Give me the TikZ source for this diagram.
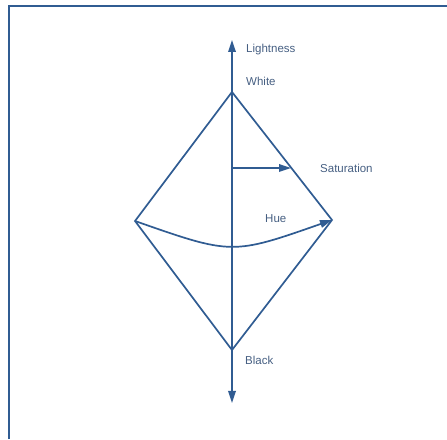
\documentclass[tikz,border=0pt]{standalone}
\usepackage{fontspec}
\setmainfont{Liberation Sans}
\usetikzlibrary{arrows.meta, positioning, calc}
\definecolor{plate}{RGB}{48,92,146}
\definecolor{labeltext}{RGB}{70,95,130}

\begin{document}
\begin{tikzpicture}[x=1pt, y=1pt, >={Triangle[length=12pt, width=7.5pt]},
    solid line/.style={plate, line width=1.7pt},
    tag/.style={labeltext, anchor=west, inner sep=0pt, font=\fontsize{11.5}{13}\selectfont}]
      \useasboundingbox (0,0) rectangle (447,439);
      % frame, cut off at right and bottom
      \draw[plate, line width=2.2pt] (9,0) -- (9,433) -- (447,433);

      % corners of the double cone
      \coordinate (white) at (232,347);
      \coordinate (black) at (232,89);
      \coordinate (left) at (135,218);
      \coordinate (right) at (332,219);
      \coordinate (uptip) at (232,399);
      \coordinate (downtip) at (232,36);

      \draw[solid line] (white) -- (left) -- (black) -- (right) -- cycle;
      \draw[solid line, ->] (black) -- (uptip);
      \draw[solid line, ->] (white) -- (downtip);

      % saturation and hue
      \coordinate (satfoot) at (232,271);
      \coordinate (sattip) at (291,271);
      \draw[solid line, ->] (satfoot) -- (sattip);
      \draw[solid line, ->] (left) .. controls (232,184) .. (right);

      \node[tag] (lightness) at (246,389) {Lightness};
      \node[tag] (whitelbl) at (246,358) {White};
      \node[tag] (satlbl) at (320,271) {Saturation};
      \node[tag] (huelbl) at (265,220) {Hue};
      \node[tag] (blacklbl) at (245,79) {Black};
    \end{tikzpicture}
\end{document}
